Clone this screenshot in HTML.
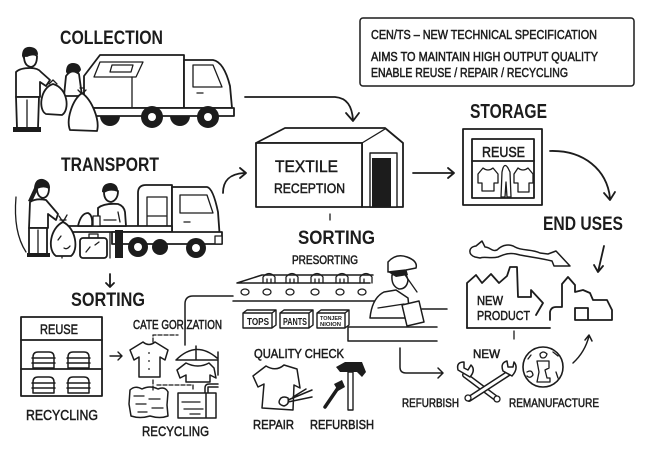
<!DOCTYPE html>
<html><head><meta charset="utf-8"><style>
html,body{margin:0;padding:0;background:#fff}
svg{display:block}
text{font-family:"Liberation Sans",sans-serif;fill:#1c1c1c}
.h{font-weight:bold;font-size:19px}
.m{font-weight:bold;font-size:13px}
.s{font-size:12.5px;stroke:#1c1c1c;stroke-width:0.5}
.l{fill:none;stroke:#1c1c1c;stroke-width:1.8;stroke-linecap:round;stroke-linejoin:round}
.t{fill:none;stroke:#1c1c1c;stroke-width:1.3;stroke-linecap:round;stroke-linejoin:round}
.w{fill:#fff;stroke:#1c1c1c;stroke-width:1.8;stroke-linejoin:round}
.k{fill:#1c1c1c}
</style></head><body>
<svg width="657" height="459" viewBox="0 0 657 459" xmlns="http://www.w3.org/2000/svg">

<!-- ========== HEADINGS ========== -->
<text class="h" x="60" y="44" textLength="103" lengthAdjust="spacingAndGlyphs">COLLECTION</text>
<text class="h" x="61" y="171" textLength="98" lengthAdjust="spacingAndGlyphs">TRANSPORT</text>
<text class="h" x="71" y="306" textLength="74" lengthAdjust="spacingAndGlyphs">SORTING</text>
<text class="h" x="298" y="244" textLength="77" lengthAdjust="spacingAndGlyphs">SORTING</text>
<text class="h" x="470" y="118" textLength="77" lengthAdjust="spacingAndGlyphs" style="font-size:20px">STORAGE</text>
<text class="h" x="543" y="230" textLength="80" lengthAdjust="spacingAndGlyphs">END USES</text>

<!-- ========== INFO BOX ========== -->
<rect x="360" y="18" width="274" height="68" rx="3" class="t" style="stroke-width:1.5"/>
<text class="s" x="371" y="39" textLength="226" lengthAdjust="spacingAndGlyphs">CEN/TS – NEW TECHNICAL SPECIFICATION</text>
<text class="s" x="371" y="61" textLength="227" lengthAdjust="spacingAndGlyphs">AIMS TO MAINTAIN HIGH OUTPUT QUALITY</text>
<text class="s" x="371" y="77" textLength="197" lengthAdjust="spacingAndGlyphs">ENABLE REUSE / REPAIR / RECYCLING</text>

<!-- ========== COLLECTION ========== -->
<path class="w" d="M100,55 L184,55 L184,108 L84,108 L84,76 Z"/>
<path class="t" d="M100,62 L143,62 L136,77 L94,77 Z"/>
<path class="t" d="M112,65 L133,65 L131,72 L110,72 Z"/>
<line class="t" x1="132" y1="77" x2="132" y2="108"/>
<path class="w" d="M184,60 L213,60 Q224,62 230,86 L232,108 L184,108 Z"/>
<path class="t" d="M193,65 L213,65 L222,87 L193,87 Z"/>
<line class="t" x1="197" y1="93" x2="203" y2="93"/>
<path class="k" d="M100,116 A10,10 0 0 0 120,116 Z"/>
<path class="k" d="M170,116 A10,10 0 0 0 190,116 Z"/>
<rect x="84" y="108" width="150" height="8" class="w"/>
<circle cx="152" cy="117" r="11" class="k"/><circle cx="152" cy="117" r="4" fill="#fff"/>
<circle cx="208" cy="117" r="11" class="k"/><circle cx="208" cy="117" r="4" fill="#fff"/>
<path class="k" d="M66,72 Q66,63 73,63 Q80,63 81,70 L78,74 L68,75 Z"/>
<path class="w" d="M66,76 Q72,68 79,74 L82,96 L64,96 Z"/>
<path class="k" d="M22,56 Q22,46 31,47 Q38,48 38,55 L34,54 L27,57 L24,60 Z"/>
<path class="w" d="M24,56 Q24,66 31,67 Q37,66 37,56 Q34,53 27,56 Z"/>
<path class="w" d="M16,72 Q20,68 30,68 Q38,68 41,72 L50,80 L46,86 L40,82 L40,97 L16,97 Z"/>
<path class="w" d="M16,97 L39,97 L38,128 L17,128 Z"/>
<line class="t" x1="27" y1="100" x2="27" y2="128"/>
<path class="k" d="M13,127 L28,127 L28,132 L13,132 Z M28,127 L41,127 L41,132 L28,132 Z"/>
<path class="w" d="M53,84 C40,88 38,110 46,114 L62,115 C70,110 68,88 53,84 Z"/>
<path class="t" d="M49,84 L53,80 L57,84"/>
<path class="w" d="M82,93 C72,100 66,120 70,130 L97,131 C100,120 92,100 82,93 Z"/>
<path class="t" d="M78,90 L82,94 L86,90 M80,88 L84,88"/>

<path class="l" d="M245,97 L335,97 C347,98 352,106 353,120"/>
<path class="l" d="M346,113 L353,121 L359,113"/>

<!-- ========== TRANSPORT ========== -->
<path class="t" d="M16,197 Q13,232 26,252"/>
<path class="w" d="M138,227 L138,193 Q138,185 146,185 L172,185 L172,227 Z"/>
<path class="t" d="M147,197 L167,197 L167,227 M147,197 L147,227 M148,216 L166,216"/>
<path class="w" d="M172,187 L207,187 Q213,188 218,212 L220,240 L172,240 Z"/>
<path class="t" d="M180,195 L207,195 L213,213 L180,213 Z"/>
<line class="t" x1="184" y1="222" x2="190" y2="222"/>
<rect x="62" y="226" width="110" height="6" class="w"/>
<rect x="112" y="232" width="110" height="12" class="w"/>
<line class="t" x1="110" y1="232" x2="110" y2="258"/>
<rect x="115" y="230" width="8" height="28" class="k"/>
<line class="t" x1="62" y1="232" x2="62" y2="258"/>
<circle cx="160" cy="247" r="8" class="k"/>
<circle cx="138" cy="247" r="10" class="k"/><circle cx="138" cy="247" r="4" fill="#fff"/>
<circle cx="196" cy="248" r="10" class="k"/><circle cx="196" cy="248" r="4" fill="#fff"/>
<rect x="215" y="236" width="7" height="8" class="w" style="stroke-width:1.3"/>
<path class="k" d="M34,188 Q35,178 43,179 Q50,181 50,188 L45,186 L38,189 L32,202 L28,201 Z"/>
<path class="w" d="M37,188 Q37,197 43,198 Q49,197 49,188 Q44,185 37,188 Z"/>
<path class="w" d="M30,202 Q36,198 46,200 L58,214 L56,220 L48,214 L48,228 L29,228 Z"/>
<rect x="29" y="228" width="18" height="26" class="w"/>
<line class="t" x1="38" y1="230" x2="38" y2="254"/>
<rect x="27" y="253" width="23" height="4" class="k"/>
<path class="w" d="M63,222 C50,228 47,250 56,256 L71,256 C79,250 76,228 63,222 Z"/>
<path class="t" d="M59,216 L63,222 L67,215 M60,220 L66,220 M58,240 L61,236 M64,248 Q67,250 70,246"/>
<path class="k" d="M102,192 Q102,183 111,183 Q118,184 118,191 L112,189 L105,193 Z"/>
<path class="w" d="M104,192 Q104,201 111,202 Q118,200 118,191 Q110,188 104,192 Z"/>
<path class="w" d="M98,208 Q104,203 118,204 Q124,206 125,212 L126,226 L98,226 Z"/>
<path class="t" d="M104,220 L116,220 M118,212 L120,222"/>
<path class="w" d="M78,226 Q81,213 88,213 Q93,215 92,226 Z"/>
<rect x="93" y="216" width="7" height="10" class="w" style="stroke-width:1.3"/>
<rect x="80" y="238" width="27" height="20" rx="3" class="w"/>
<path class="t" d="M89,238 L89,234 L98,234 L98,238 M86,252 L90,247 M95,245 L99,242"/>
<path class="l" d="M110,274 L110,287 M106,283 L110,287 L114,283"/>
<path class="l" d="M223,193 C223,181 229,174 244,173"/>
<path class="l" d="M240,168 L246,173 L240,178"/>

<!-- ========== TEXTILE RECEPTION ========== -->
<path class="w" d="M256,143 L285,128 L385,128 L403,143 L403,207 L362,207 L362,143 Z"/>
<path class="t" d="M362,143 L385,129"/>
<rect x="256" y="143" width="106" height="64" class="w"/>
<rect x="370" y="153" width="27" height="54" class="w" style="stroke-width:1.4"/>
<rect x="372" y="158" width="19" height="49" class="k"/>
<text x="275" y="172" textLength="63" lengthAdjust="spacingAndGlyphs" style="font-size:17px;stroke:#1c1c1c;stroke-width:0.5">TEXTILE</text>
<text x="274" y="193" textLength="71" lengthAdjust="spacingAndGlyphs" style="font-size:13.5px;stroke:#1c1c1c;stroke-width:0.5">RECEPTION</text>
<line class="t" x1="330" y1="214" x2="330" y2="220"/>
<path class="l" d="M413,173 L454,173 M448,168 L454,173 L448,178"/>

<!-- ========== STORAGE ========== -->
<rect x="463" y="129" width="79" height="76" class="l"/>
<rect x="472" y="139" width="62" height="59" class="l"/>
<line class="l" x1="472" y1="161" x2="534" y2="161"/>
<text x="482" y="157" textLength="43" lengthAdjust="spacingAndGlyphs" style="font-size:14.5px;stroke:#1c1c1c;stroke-width:0.5">REUSE</text>
<path class="t" d="M483,168 L478,174 L478,183 L482,183 L482,191 L494,191 L494,183 L498,183 L498,174 L493,168 Q488,172 483,168 Z"/>
<path class="t" d="M503,168 Q505,163 508,168 L510,172 L511,197 L507,197 L506,182 L505,197 L501,197 L502,172 Z"/>
<path class="t" d="M518,168 L514,174 L514,183 L518,183 L518,192 L529,192 L529,183 L533,183 L533,174 L528,168 Q523,172 518,168 Z"/>
<path class="l" d="M550,151 C584,150 607,170 610,198 M604,193 L610,200 L615,192"/>

<!-- ========== END USES ========== -->
<path class="t" style="stroke-width:1.5" d="M475,257 C468,255 468,247 476,246 L482,241 L485,247 C490,247 492,252 497,250 C503,244 510,244 515,247 C522,251 532,249 540,253 L548,254 L556,251 L570,266 L554,266 L552,261 C540,258 530,257 520,255 C510,252 505,254 498,257 C490,259 485,256 480,258 Z"/>
<path class="l" d="M604,246 L598,272 M594,265 L598,272 L603,266"/>
<path class="l" d="M467,328 L467,283 L476,275 L482,283 L491,274 L499,283 L507,276 L510,267 L517,267 L518,297 L531,297 L531,290 L543,303 L536,315"/>
<path class="l" d="M467,328 L550,328"/>
<text x="477" y="305" textLength="26" lengthAdjust="spacingAndGlyphs" style="font-size:12.5px;stroke:#1c1c1c;stroke-width:0.5">NEW</text>
<text x="477" y="320" textLength="53" lengthAdjust="spacingAndGlyphs" style="font-size:13px;stroke:#1c1c1c;stroke-width:0.5">PRODUCT</text>
<path class="l" d="M550,320 L550,312 Q551,307 556,307 L562,307 L562,284 L568,277 L575,285 L575,292 L583,290 L590,293 L593,300 L607,300 L612,310 L612,320 L575,320 M575,320 L575,308 L588,308 L588,320"/>
<line class="t" x1="514" y1="331" x2="514" y2="339"/>

<!-- ========== SORTING (left) ========== -->
<rect x="21" y="317" width="81" height="79" class="l"/>
<line class="l" x1="21" y1="340" x2="102" y2="340"/>
<line class="l" x1="21" y1="369" x2="102" y2="369"/>
<text x="40" y="334" textLength="38" lengthAdjust="spacingAndGlyphs" style="font-size:13.5px;stroke:#1c1c1c;stroke-width:0.5">REUSE</text>
<g class="t" style="stroke-width:1.5">
<path d="M33,368 L33,357 Q33,352 38,352 L49,352 Q54,352 54,357 L54,368 Z M32,358 L55,358 M32,363 L55,363"/>
<path d="M68,368 L68,357 Q68,352 73,352 L84,352 Q89,352 89,357 L89,368 Z M67,358 L90,358 M67,363 L90,363"/>
<path d="M33,393 L33,382 Q33,377 38,377 L49,377 Q54,377 54,382 L54,393 Z M32,383 L55,383 M32,388 L55,388"/>
<path d="M68,393 L68,382 Q68,377 73,377 L84,377 Q89,377 89,382 L89,393 Z M67,383 L90,383 M67,388 L90,388"/>
</g>
<text x="26" y="420" textLength="72" lengthAdjust="spacingAndGlyphs" style="font-size:15px;stroke:#1c1c1c;stroke-width:0.5">RECYCLING</text>
<path class="l" d="M110,356 L122,356 M118,352 L122,356 L118,360" style="stroke-width:1.4"/>

<text x="133" y="329" textLength="89" lengthAdjust="spacingAndGlyphs" style="font-size:12.5px;stroke:#1c1c1c;stroke-width:0.5">CATE GORIZATION</text>
<path class="t" d="M185,345 L185,304 Q185,296 193,296 L233,296" style="stroke-width:1.5"/>
<path class="t" d="M153,342 L153,335 L178,335" stroke-dasharray="4,2"/>
<path class="t" style="stroke-width:1.5" d="M143,342 L130,350 L134,360 L139,357 L139,377 L160,377 L160,357 L165,360 L168,350 L155,342 Q149,347 143,342 Z"/>
<circle cx="149" cy="353" r="0.9" class="k"/><circle cx="149" cy="361" r="0.9" class="k"/><circle cx="149" cy="369" r="0.9" class="k"/>
<path class="t" style="stroke-width:1.5" d="M176,360 Q196,340 217,358 M176,360 L217,360 M218,352 L218,375 M196,346 L196,360"/>
<path class="t" style="stroke-width:1.5" d="M186,363 L177,370 L180,378 L186,375 L186,382 L210,382 L210,375 L216,378 L214,368 L209,363 Q198,369 186,363 Z"/>
<path class="t" d="M153,380 L153,390 M157,385 L193,385 L193,390" stroke-dasharray="4,2"/>
<path class="t" style="stroke-width:1.5" d="M130,390 Q135,385 142,389 Q150,385 158,389 Q165,386 168,392 L167,405 L168,416 Q160,419 150,416 Q140,419 131,416 L129,404 Z"/>
<path class="t" d="M134,396 L144,396 M149,399 L160,399 M136,404 L146,404 M152,408 L163,408 M138,412 L147,412"/>
<path class="t" style="stroke-width:1.5" d="M178,393 L206,393 L206,418 L178,418 Z M206,393 L216,393 L216,418 L206,418 M205,393 L205,388 Q205,384 209,384 L218,384 M208,393 L208,387 L218,387"/>
<path class="t" d="M182,402 L200,402 M184,409 L203,409 M190,414 L200,414"/>
<text x="142" y="436" textLength="67" lengthAdjust="spacingAndGlyphs" style="font-size:14px;stroke:#1c1c1c;stroke-width:0.5">RECYCLING</text>

<!-- ========== CONVEYOR ========== -->
<text x="292" y="264" textLength="66" lengthAdjust="spacingAndGlyphs" style="font-size:11.5px;stroke:#1c1c1c;stroke-width:0.5">PRESORTING</text>
<path class="t" style="stroke-width:1.5" d="M237,283 L262,275 L373,275 M237,283 L370,283 M233,301 L380,301"/>
<g class="t" style="stroke-width:1.3">
<ellipse cx="245" cy="292" rx="4" ry="3"/><ellipse cx="267" cy="292" rx="4" ry="3"/>
<ellipse cx="290" cy="292" rx="4" ry="3"/><ellipse cx="315" cy="292" rx="4" ry="3"/>
<ellipse cx="340" cy="292" rx="4" ry="3"/><ellipse cx="362" cy="292" rx="4" ry="3"/>
<path d="M263,283 L263,277 Q269,270 275,277 L275,283 M267,279 L267,283 M271,279 L271,283"/>
<path d="M286,283 L286,277 Q292,270 298,277 L298,283 M290,279 L290,283 M294,279 L294,283"/>
<path d="M311,283 L311,277 Q317,270 323,277 L323,283 M315,279 L315,283 M319,279 L319,283"/>
<path d="M336,283 L336,277 Q342,270 348,277 L348,283 M340,279 L340,283 M344,279 L344,283"/>
<path d="M360,283 L360,277 Q366,270 372,277 L372,283 M364,279 L364,283"/>
</g>
<g class="t" style="stroke-width:1.4">
<path d="M243,313 L272,313 L272,328 L243,328 Z M243,313 L247,310 L276,310 L272,313 M276,310 L276,325 L272,328"/>
<path d="M280,313 L309,313 L309,328 L280,328 Z M280,313 L284,310 L313,310 L309,313 M313,310 L313,325 L309,328"/>
<path d="M317,313 L345,313 L345,328 L317,328 Z M317,313 L321,310 L349,310 L345,313 M349,310 L349,325 L345,328"/>
</g>
<text x="247" y="325" textLength="22" lengthAdjust="spacingAndGlyphs" style="font-size:10px;font-weight:bold">TOPS</text>
<text x="283" y="325" textLength="24" lengthAdjust="spacingAndGlyphs" style="font-size:10px;font-weight:bold">PANTS</text>
<text x="320" y="320" textLength="22" lengthAdjust="spacingAndGlyphs" style="font-size:5px;font-weight:bold">TONJER</text>
<text x="320" y="326" textLength="21" lengthAdjust="spacingAndGlyphs" style="font-size:5px;font-weight:bold">NIOION</text>
<path class="w" style="stroke-width:1.5" d="M370,318 Q372,298 384,292 L396,290 L408,298 L410,318 Z"/>
<path class="w" style="stroke-width:1.5" d="M392,275 Q391,286 399,289 Q407,289 408,280 L405,271 Z"/>
<path class="k" d="M388,272 L406,268 L408,275 L396,277 Z"/>
<path class="w" style="stroke-width:1.5" d="M388,272 L388,262 Q396,253 407,257 Q418,261 416,268 L406,270 Z"/>
<path class="t" d="M403,272 L417,292 M378,308 L404,304"/>
<path class="w" style="stroke-width:1.5" d="M402,305 L419,301 L424,322 L407,326 Z"/>
<path class="t" style="stroke-width:1.5" d="M348,341 L348,327 L437,327 M348,341 L437,341 M422,309 L447,309"/>

<!-- ========== QUALITY CHECK ========== -->
<text x="254" y="358" textLength="90" lengthAdjust="spacingAndGlyphs" style="font-size:12.5px;stroke:#1c1c1c;stroke-width:0.5">QUALITY CHECK</text>
<path class="t" style="stroke-width:1.5" d="M266,366 L253,376 L258,387 L264,384 L262,408 L293,410 L294,385 L300,388 L297,369 L284,365 Q276,372 266,366 Z"/>
<path class="t" style="stroke-width:1.5" d="M281,398 Q276,404 284,406 Q290,404 288,398 Q284,396 281,398 Z M288,400 L312,390 M288,402 L312,397 M293,397 L306,389"/>
<path class="k" d="M336,367 L345,362 L362,362 L366,372 L362,377 L357,372 L340,372 Z"/>
<rect x="348" y="372" width="5" height="38" class="w" style="stroke-width:1.4"/>
<path class="l" style="stroke-width:3.5" d="M325,407 L338,388"/>
<path class="k" d="M334,384 L342,380 L345,387 L338,391 Z"/>
<text x="253" y="429" textLength="41" lengthAdjust="spacingAndGlyphs" style="font-size:13px;stroke:#1c1c1c;stroke-width:0.5">REPAIR</text>
<text x="310" y="429" textLength="64" lengthAdjust="spacingAndGlyphs" style="font-size:13px;stroke:#1c1c1c;stroke-width:0.5">REFURBISH</text>

<!-- ========== REFURBISH / REMANUFACTURE ========== -->
<path class="l" d="M400,348 L400,367 Q400,373 406,373 L443,373 M438,368 L443,373 L438,378" style="stroke-width:1.5"/>
<text x="473" y="358" textLength="27" lengthAdjust="spacingAndGlyphs" style="font-size:12px;stroke:#1c1c1c;stroke-width:0.5">NEW</text>
<path d="M465,375 L497,399" stroke="#1c1c1c" stroke-width="6" stroke-linecap="round"/>
<path d="M465,375 L497,399" stroke="#fff" stroke-width="3" stroke-linecap="round"/>
<path class="w" style="stroke-width:1.5" d="M458,370 Q456,362 464,362 L464,368 L468,370 L471,365 Q476,370 470,377 Z"/>
<path d="M509,373 L469,399" stroke="#1c1c1c" stroke-width="6" stroke-linecap="round"/>
<path d="M509,373 L469,399" stroke="#fff" stroke-width="3" stroke-linecap="round"/>
<path class="w" style="stroke-width:1.5" d="M503,371 Q500,363 507,361 L508,367 L513,367 L514,362 Q519,368 512,376 Z"/>
<circle cx="468" cy="398" r="3" class="w" style="stroke-width:1.3"/>
<circle cx="497" cy="399" r="3" class="w" style="stroke-width:1.3"/>
<circle cx="543" cy="367" r="20" class="l" style="stroke-width:1.6"/>
<path class="t" d="M540,354 Q543,350 547,354 Q546,358 543,358 Q540,358 540,354 Z M537,361 L549,361 L549,368 L545,370 L547,378 L550,378 L550,382 L537,382 L539,372 Z M527,372 Q532,369 533,375 Q530,379 527,376 M553,352 L558,356 M528,359 L531,355 M556,372 L558,378"/>
<text x="402" y="407" textLength="57" lengthAdjust="spacingAndGlyphs" style="font-size:12px;stroke:#1c1c1c;stroke-width:0.5">REFURBISH</text>
<text x="509" y="407" textLength="90" lengthAdjust="spacingAndGlyphs" style="font-size:12px;stroke:#1c1c1c;stroke-width:0.5">REMANUFACTURE</text>
<path class="l" style="stroke-width:1.5" d="M573,363 Q585,352 589,336 M585,340 L589,335 L592,341"/>

</svg>
</body></html>
